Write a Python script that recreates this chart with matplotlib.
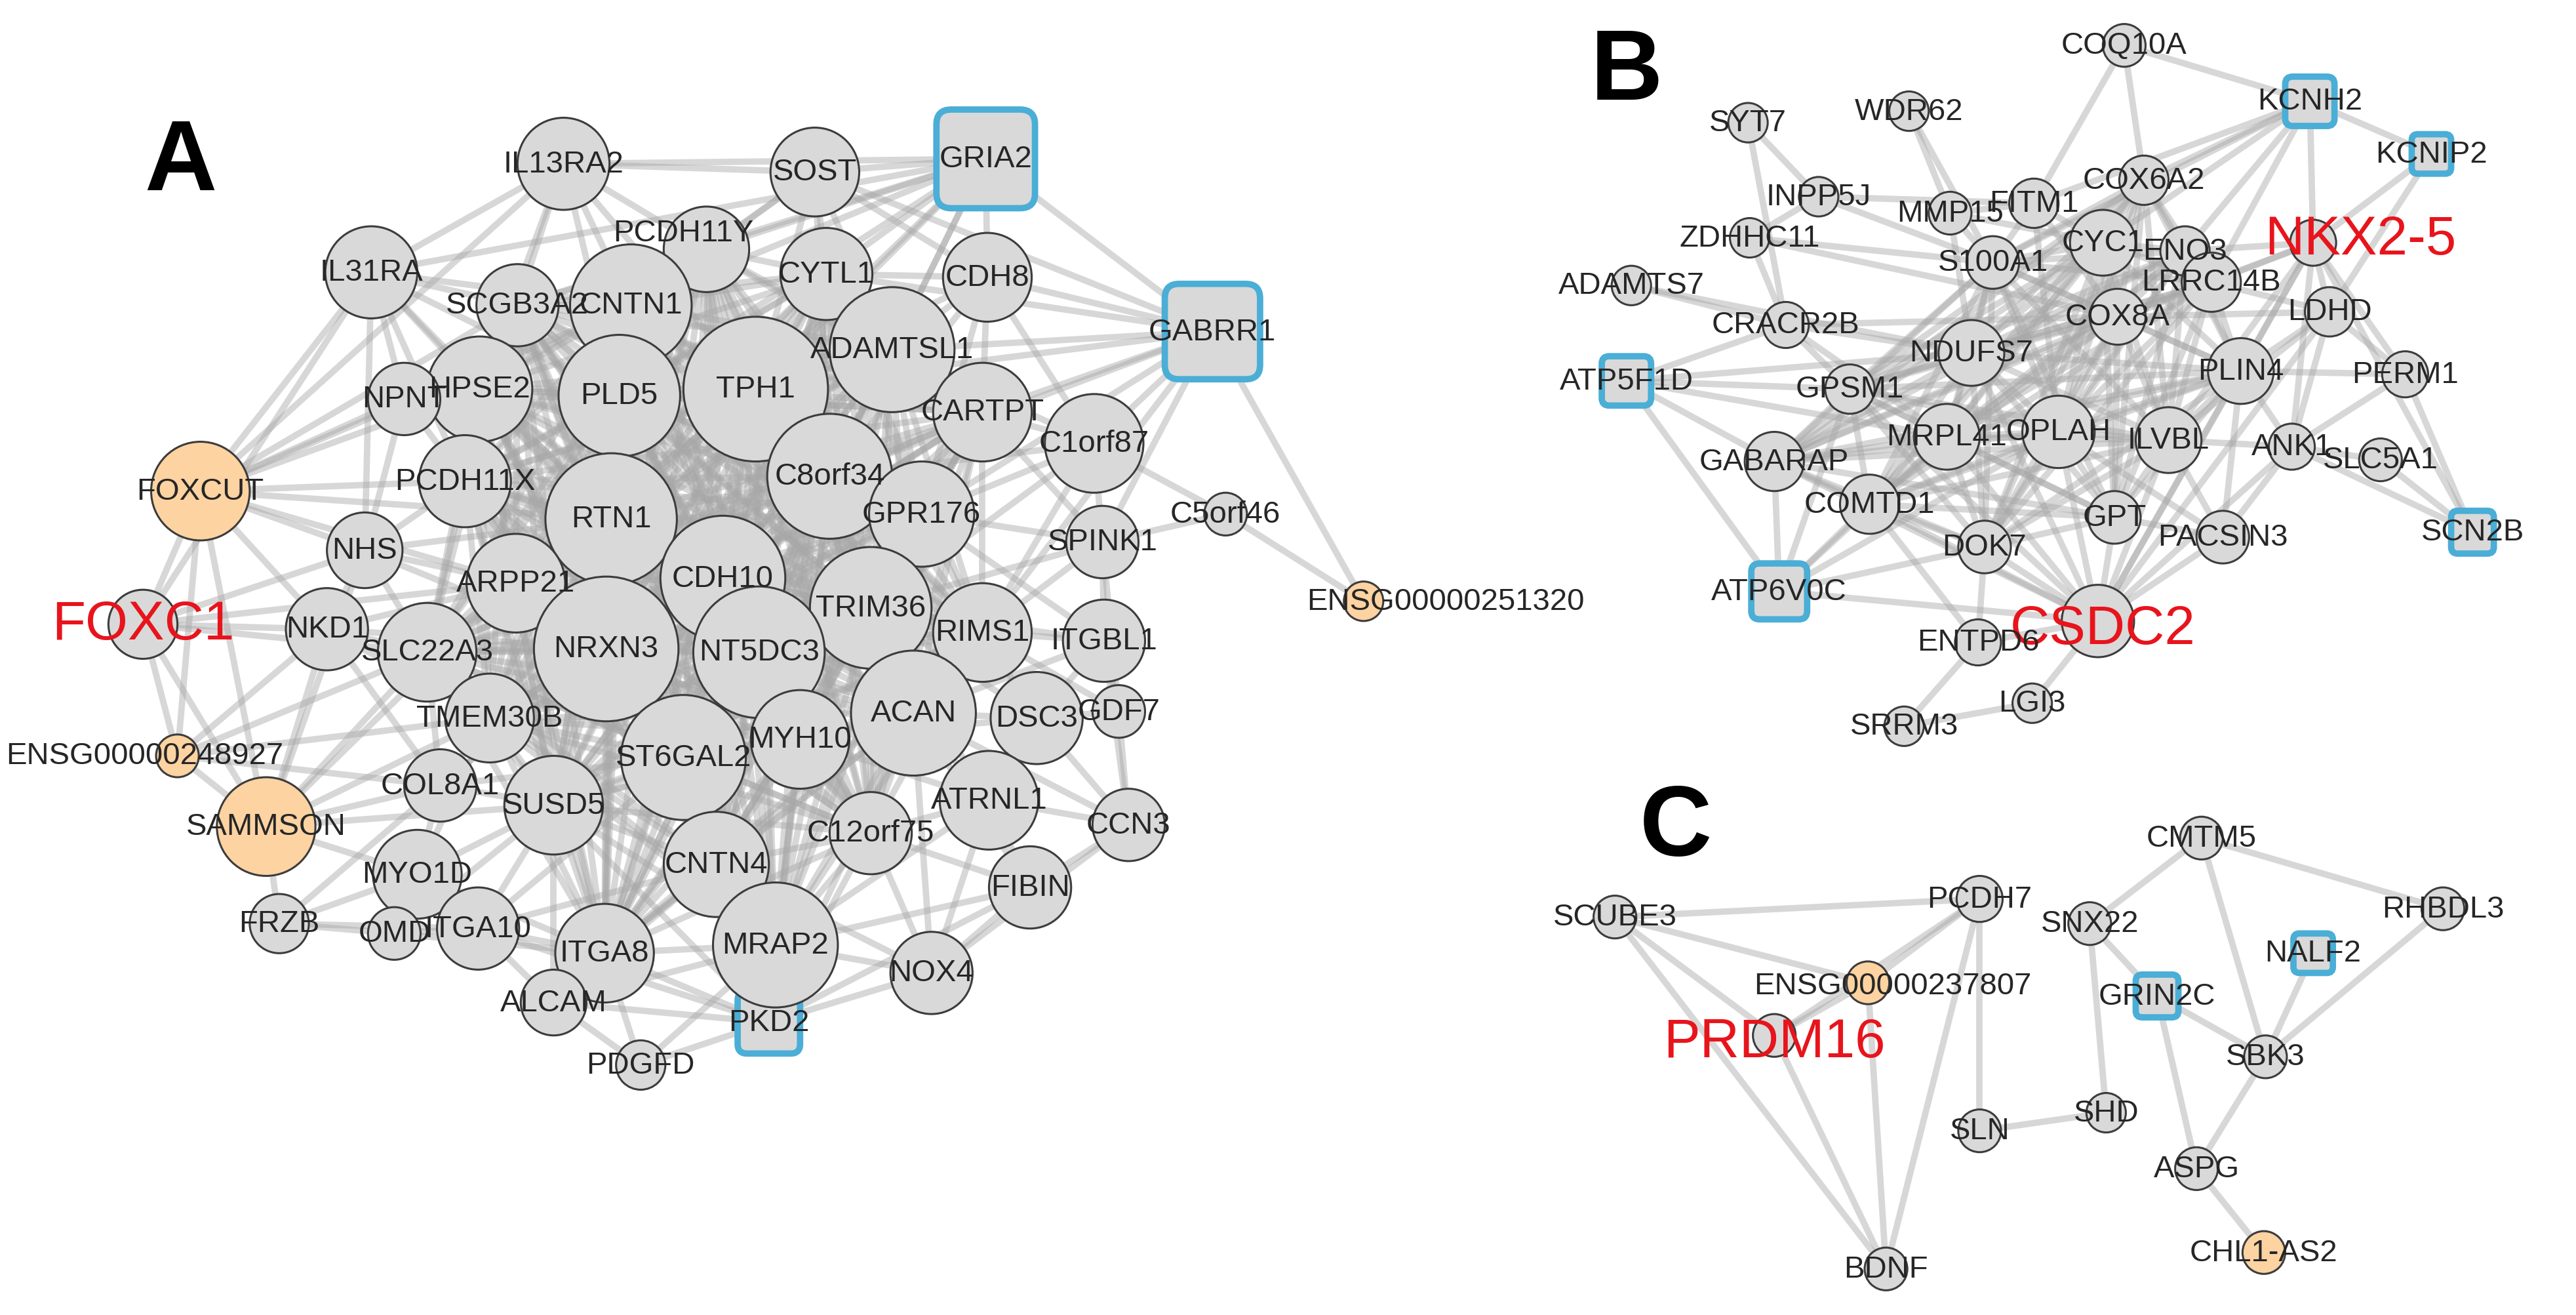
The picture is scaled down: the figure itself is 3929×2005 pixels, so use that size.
import matplotlib
matplotlib.use("Agg")
import matplotlib.pyplot as plt
from matplotlib.patches import Circle, FancyBboxPatch
from itertools import combinations

plt.rcParams['font.family'] = ['Liberation Sans', 'DejaVu Sans']

# ---------------- data: nodes (name, x, y, radius, kind) ----------------
# kind: g = grey circle, o = orange circle, s = blue square
node_names = []
node_x = []
node_y = []
node_r = []
node_kind = []

def add(rows):
    for n, x, y, r, k in rows:
        node_names.append(n); node_x.append(x); node_y.append(y); node_r.append(r); node_kind.append(k)

panelA = [
    ("GRIA2", 600, 97, 30, "s"), ("GABRR1", 738, 202, 29, "s"), ("PKD2", 468, 622, 19, "s"),
    ("IL13RA2", 343, 100, 28, "g"), ("SOST", 496, 105, 27, "g"), ("PCDH11Y", 430, 152, 26, "g"),
    ("CYTL1", 503, 167, 28, "g"), ("CDH8", 601, 169, 27, "g"), ("IL31RA", 226, 166, 28, "g"),
    ("SCGB3A2", 315, 186, 25, "g"), ("CNTN1", 384, 186, 37, "g"), ("ADAMTSL1", 543, 213, 38, "g"),
    ("HPSE2", 292, 237, 32, "g"), ("PLD5", 377, 241, 37, "g"), ("TPH1", 460, 237, 44, "g"),
    ("NPNT", 246, 243, 22, "g"), ("CARTPT", 598, 251, 30, "g"), ("C1orf87", 666, 270, 30, "g"),
    ("FOXCUT", 122, 299, 30, "o"), ("PCDH11X", 283, 293, 28, "g"), ("C8orf34", 505, 290, 38, "g"),
    ("GPR176", 561, 313, 32, "g"), ("C5orf46", 746, 313, 13, "g"), ("SPINK1", 671, 330, 22, "g"),
    ("ENSG00000251320", 830, 366, 12, "o"), ("RTN1", 372, 316, 40, "g"), ("CDH10", 440, 352, 38, "g"),
    ("NHS", 222, 335, 23, "g"), ("ARPP21", 314, 355, 30, "g"), ("FOXC1", 87, 380, 21, "g"),
    ("NKD1", 199, 383, 25, "g"), ("TRIM36", 530, 370, 37, "g"), ("RIMS1", 598, 385, 30, "g"),
    ("ITGBL1", 672, 390, 25, "g"), ("SLC22A3", 260, 397, 30, "g"), ("NRXN3", 369, 395, 44, "g"),
    ("NT5DC3", 462, 397, 40, "g"), ("GDF7", 681, 433, 16, "g"), ("ENSG00000248927", 108, 460, 13, "o"),
    ("TMEM30B", 298, 437, 27, "g"), ("MYH10", 487, 450, 30, "g"), ("ACAN", 556, 434, 38, "g"),
    ("DSC3", 631, 437, 28, "g"), ("COL8A1", 268, 478, 22, "g"), ("ST6GAL2", 416, 461, 38, "g"),
    ("SUSD5", 337, 490, 30, "g"), ("SAMMSON", 162, 503, 30, "o"), ("CNTN4", 436, 526, 32, "g"),
    ("C12orf75", 530, 507, 25, "g"), ("ATRNL1", 602, 487, 30, "g"), ("CCN3", 687, 502, 22, "g"),
    ("MYO1D", 254, 532, 27, "g"), ("OMD", 240, 568, 16, "g"), ("ITGA10", 291, 565, 25, "g"),
    ("ITGA8", 368, 580, 30, "g"), ("MRAP2", 472, 575, 38, "g"), ("FIBIN", 627, 540, 25, "g"),
    ("FRZB", 170, 562, 18, "g"), ("NOX4", 567, 592, 25, "g"), ("ALCAM", 337, 610, 20, "g"),
    ("PDGFD", 390, 648, 15, "g"),
]
panelB = [
    ("COQ10A", 1293, 28, 13, "g"), ("SYT7", 1064, 75, 12, "g"), ("WDR62", 1162, 68, 12, "g"),
    ("KCNH2", 1406, 62, 15, "s"), ("KCNIP2", 1480, 94, 12, "s"), ("INPP5J", 1107, 120, 12, "g"),
    ("FITM1", 1238, 124, 15, "g"), ("COX6A2", 1305, 110, 15, "g"), ("MMP15", 1187, 130, 13, "g"),
    ("ENO3", 1330, 153, 15, "g"), ("ZDHHC11", 1065, 145, 12, "g"), ("S100A1", 1213, 160, 16, "g"),
    ("CYC1", 1280, 148, 20, "g"), ("NKX2-5", 1408, 148, 14, "g"), ("ADAMTS7", 993, 174, 12, "g"),
    ("LRRC14B", 1346, 172, 18, "g"), ("CRACR2B", 1087, 198, 14, "g"), ("COX8A", 1289, 193, 17, "g"),
    ("LDHD", 1418, 190, 15, "g"), ("NDUFS7", 1200, 215, 20, "g"), ("ATP5F1D", 990, 232, 15, "s"),
    ("GPSM1", 1126, 237, 15, "g"), ("PLIN4", 1364, 226, 20, "g"), ("PERM1", 1464, 228, 14, "g"),
    ("GABARAP", 1080, 281, 18, "g"), ("MRPL41", 1185, 266, 20, "g"), ("OPLAH", 1253, 263, 22, "g"),
    ("ILVBL", 1320, 268, 20, "g"), ("ANK1", 1395, 272, 14, "g"), ("SLC5A1", 1449, 280, 13, "g"),
    ("COMTD1", 1138, 307, 18, "g"), ("GPT", 1287, 315, 16, "g"), ("PACSIN3", 1353, 327, 16, "g"),
    ("DOK7", 1208, 333, 16, "g"), ("SCN2B", 1505, 324, 13, "s"), ("ATP6V0C", 1083, 360, 17, "s"),
    ("CSDC2", 1277, 378, 22, "g"), ("ENTPD6", 1204, 391, 14, "g"), ("LGI3", 1237, 428, 12, "g"),
    ("SRRM3", 1159, 442, 12, "g"),
]
panelC = [
    ("CMTM5", 1340, 510, 13, "g"), ("SCUBE3", 983, 558, 13, "g"), ("PCDH7", 1205, 547, 14, "g"),
    ("SNX22", 1272, 562, 13, "g"), ("RHBDL3", 1487, 553, 13, "g"), ("NALF2", 1408, 580, 12, "s"),
    ("ENSG00000237807", 1137, 598, 13, "o"), ("GRIN2C", 1313, 606, 13, "s"), ("PRDM16", 1080, 630, 13, "g"),
    ("SBK3", 1379, 643, 13, "g"), ("SHD", 1282, 677, 12, "g"), ("SLN", 1205, 688, 13, "g"),
    ("ASPG", 1337, 711, 13, "g"), ("CHL1-AS2", 1378, 762, 13, "o"), ("BDNF", 1148, 772, 13, "g"),
]
add(panelA); add(panelB); add(panelC)

# ---------------- data: edges ----------------
coreA = ["CNTN1", "PLD5", "TPH1", "ADAMTSL1", "HPSE2", "PCDH11X", "RTN1", "CDH10", "C8orf34",
         "GPR176", "ARPP21", "NRXN3", "NT5DC3", "TRIM36", "SLC22A3", "TMEM30B", "ST6GAL2",
         "MYH10", "ACAN", "SUSD5", "CNTN4", "MRAP2", "ITGA8", "C12orf75", "CYTL1", "SCGB3A2",
         "PCDH11Y", "CARTPT", "RIMS1"]
adjA = {
    "GRIA2": ["IL13RA2", "SOST", "CYTL1", "CDH8", "GABRR1", "CNTN1", "TPH1", "ADAMTSL1", "PCDH11Y", "C8orf34", "PLD5", "RTN1", "SCGB3A2", "IL31RA"],
    "GABRR1": ["CDH8", "ADAMTSL1", "CARTPT", "C1orf87", "TPH1", "C8orf34", "GPR176", "CYTL1", "SPINK1", "ENSG00000251320", "SOST", "RIMS1"],
    "C5orf46": ["ENSG00000251320", "C1orf87", "SPINK1"],
    "FOXCUT": ["IL31RA", "NPNT", "NHS", "FOXC1", "NKD1", "PCDH11X", "HPSE2", "RTN1", "SCGB3A2", "IL13RA2", "CNTN1", "ENSG00000248927", "SAMMSON", "ARPP21"],
    "FOXC1": ["NHS", "NKD1", "ENSG00000248927", "SAMMSON", "IL31RA", "SLC22A3", "ARPP21"],
    "ENSG00000248927": ["SAMMSON", "NKD1", "SLC22A3", "COL8A1", "TMEM30B"],
    "SAMMSON": ["MYO1D", "FRZB", "COL8A1", "NKD1", "SLC22A3", "TMEM30B", "ARPP21", "SUSD5", "NHS"],
    "FRZB": ["MYO1D", "OMD", "COL8A1", "ITGA10"],
    "PDGFD": ["ALCAM", "PKD2", "ITGA8", "MRAP2"],
    "PKD2": ["ALCAM", "ITGA8", "MRAP2", "CNTN4", "NOX4", "ITGA10", "ST6GAL2", "ACAN", "MYH10", "C12orf75", "SUSD5", "FIBIN"],
    "NOX4": ["FIBIN", "MRAP2", "CCN3", "ATRNL1", "ACAN", "C12orf75", "CNTN4"],
    "CCN3": ["GDF7", "ATRNL1", "FIBIN", "DSC3", "ITGBL1", "ACAN"],
    "GDF7": ["ITGBL1", "DSC3", "SPINK1", "RIMS1"],
    "IL13RA2": ["CNTN1", "SCGB3A2", "PCDH11Y", "PLD5", "TPH1", "IL31RA", "HPSE2", "SOST"],
    "SOST": ["CYTL1", "PCDH11Y", "TPH1", "CNTN1", "ADAMTSL1", "C8orf34", "CDH8"],
    "CDH8": ["CYTL1", "ADAMTSL1", "CARTPT", "TPH1", "C8orf34", "GPR176", "C1orf87"],
    "IL31RA": ["SCGB3A2", "HPSE2", "NPNT", "CNTN1", "PLD5", "PCDH11X", "NHS", "RTN1"],
    "NPNT": ["HPSE2", "PCDH11X", "NHS", "RTN1", "PLD5"],
    "NHS": ["PCDH11X", "ARPP21", "NKD1", "SLC22A3", "RTN1", "NRXN3"],
    "NKD1": ["SLC22A3", "ARPP21", "TMEM30B", "COL8A1", "NRXN3"],
    "C1orf87": ["CARTPT", "GPR176", "ADAMTSL1", "SPINK1", "TRIM36", "C8orf34", "RIMS1"],
    "SPINK1": ["GPR176", "TRIM36", "RIMS1", "ITGBL1", "CARTPT"],
    "ITGBL1": ["RIMS1", "TRIM36", "ACAN", "DSC3", "GPR176"],
    "DSC3": ["ACAN", "RIMS1", "ATRNL1", "TRIM36", "MYH10"],
    "ATRNL1": ["ACAN", "C12orf75", "MRAP2", "FIBIN", "MYH10", "TRIM36"],
    "FIBIN": ["MRAP2", "ACAN", "C12orf75"],
    "MYO1D": ["COL8A1", "SUSD5", "ITGA10", "OMD", "TMEM30B", "ITGA8"],
    "OMD": ["ITGA10", "ITGA8", "SUSD5"],
    "ITGA10": ["ITGA8", "SUSD5", "CNTN4", "ST6GAL2", "ALCAM"],
    "ALCAM": ["ITGA8", "MRAP2", "CNTN4", "SUSD5"],
    "COL8A1": ["TMEM30B", "SUSD5", "SLC22A3", "NRXN3", "ST6GAL2"],
}
coreB = ["S100A1", "CYC1", "COX8A", "NDUFS7", "OPLAH", "MRPL41", "ILVBL", "PLIN4", "LRRC14B",
         "GPSM1", "COMTD1", "GPT", "DOK7", "COX6A2", "ENO3", "GABARAP"]
adjB = {
    "KCNH2": ["KCNIP2", "NKX2-5", "FITM1", "COX6A2", "LRRC14B", "ENO3", "CYC1", "S100A1", "COQ10A"],
    "KCNIP2": ["NKX2-5", "LDHD"],
    "NKX2-5": ["LDHD", "PERM1", "ANK1", "ILVBL", "PLIN4", "COX8A", "CSDC2", "LRRC14B", "ENO3", "SCN2B"],
    "SCN2B": ["ANK1", "SLC5A1", "PERM1"],
    "CSDC2": ["ATP6V0C", "GABARAP", "MRPL41", "OPLAH", "DOK7", "GPT", "PACSIN3", "ILVBL", "COMTD1", "LDHD", "NDUFS7", "ENTPD6", "LGI3", "PLIN4", "ANK1", "GPSM1"],
    "ATP5F1D": ["ATP6V0C", "GABARAP", "CRACR2B", "NDUFS7", "GPSM1", "MRPL41"],
    "ATP6V0C": ["GABARAP", "COMTD1", "DOK7", "MRPL41", "OPLAH", "GPSM1"],
    "SYT7": ["INPP5J", "CRACR2B"],
    "WDR62": ["MMP15", "S100A1"],
    "INPP5J": ["ZDHHC11", "S100A1", "FITM1"],
    "ZDHHC11": ["CRACR2B", "COX8A", "S100A1"],
    "ADAMTS7": ["CRACR2B", "NDUFS7"],
    "SRRM3": ["ENTPD6", "LGI3"],
    "ENTPD6": ["DOK7", "COMTD1"],
    "COQ10A": ["COX6A2", "FITM1"],
    "FITM1": ["CYC1", "S100A1", "MMP15", "COX8A", "OPLAH"],
    "MMP15": ["S100A1", "NDUFS7", "CYC1"],
    "CRACR2B": ["NDUFS7", "GPSM1", "COX8A", "MRPL41"],
    "LDHD": ["PLIN4", "ILVBL", "LRRC14B", "COX8A", "PERM1", "ANK1"],
    "PERM1": ["PLIN4", "ANK1"],
    "ANK1": ["ILVBL", "PLIN4", "SLC5A1", "PACSIN3"],
    "PACSIN3": ["ILVBL", "GPT", "PLIN4", "OPLAH"],
}
edgesC = [("SCUBE3", "PCDH7"), ("SCUBE3", "PRDM16"), ("SCUBE3", "BDNF"), ("SCUBE3", "ENSG00000237807"),
          ("PCDH7", "ENSG00000237807"), ("PCDH7", "PRDM16"), ("PCDH7", "BDNF"), ("PCDH7", "SLN"),
          ("ENSG00000237807", "BDNF"), ("ENSG00000237807", "PRDM16"), ("PRDM16", "BDNF"),
          ("SLN", "SHD"), ("SHD", "SNX22"), ("SNX22", "GRIN2C"), ("SNX22", "CMTM5"),
          ("CMTM5", "RHBDL3"), ("CMTM5", "SBK3"), ("RHBDL3", "SBK3"), ("NALF2", "SBK3"),
          ("GRIN2C", "ASPG"), ("SBK3", "ASPG"), ("ASPG", "CHL1-AS2"), ("GRIN2C", "SBK3")]

label_offsets = {"ENSG00000251320": (50, 0), "ENSG00000248927": (-20, 0), "ENSG00000237807": (15, 2),
                 "PCDH11Y": (-14, -10), "NKX2-5": (29, -2), "CSDC2": (3, 5), "PRDM16": (0, 4)}
red_labels = ["FOXC1", "NKX2-5", "CSDC2", "PRDM16"]
panel_letters = ["A", "B", "C"]
letter_x = [110, 990, 1020]
letter_y = [100, 45, 505]

# ---------------- build ----------------
W, H = 1568, 800
fig = plt.figure(figsize=(39.29, 20.06), dpi=100)
ax = fig.add_axes([0, 0, 1, 1])
ax.set_xlim(0, W); ax.set_ylim(H, 0); ax.axis("off")

idx = {n: i for i, n in enumerate(node_names)}
edges = set()
for core in (coreA, coreB):
    for a, b in combinations(core, 2):
        edges.add(tuple(sorted((a, b))))
for adj in (adjA, adjB):
    for a, lst in adj.items():
        for b in lst:
            edges.add(tuple(sorted((a, b))))
for a, b in edgesC:
    edges.add(tuple(sorted((a, b))))

for a, b in edges:
    i, j = idx[a], idx[b]
    ax.plot([node_x[i], node_x[j]], [node_y[i], node_y[j]], color="#a8a8a8", lw=7, alpha=0.45,
            solid_capstyle="round", zorder=1)

for n, x, y, r, k in zip(node_names, node_x, node_y, node_r, node_kind):
    if k == "s":
        p = FancyBboxPatch((x - r * 0.85, y - r * 0.85), 1.7 * r, 1.7 * r,
                           boxstyle=f"round,pad={r*0.15},rounding_size={r*0.3}",
                           fc="#d9d9d9", ec="#4aaed6", lw=7, zorder=3)
    else:
        fc = "#fdd3a2" if k == "o" else "#d9d9d9"
        p = Circle((x, y), r, fc=fc, ec="#3c3c3c", lw=2.2, zorder=3)
    ax.add_patch(p)
    dx, dy = label_offsets.get(n, (0, 0))
    if n in red_labels:
        ax.text(x + dx, y + dy, n, color="#e8141c", fontsize=60, ha="center", va="center", zorder=5)
    else:
        ax.text(x + dx, y + dy, n, color="#262626", fontsize=34, ha="center", va="center", zorder=5)

for L, x, y in zip(panel_letters, letter_x, letter_y):
    ax.text(x, y, L, fontsize=110, fontweight="bold", ha="center", va="center", color="black")

fig.savefig("out.png", dpi=100, facecolor="white")
